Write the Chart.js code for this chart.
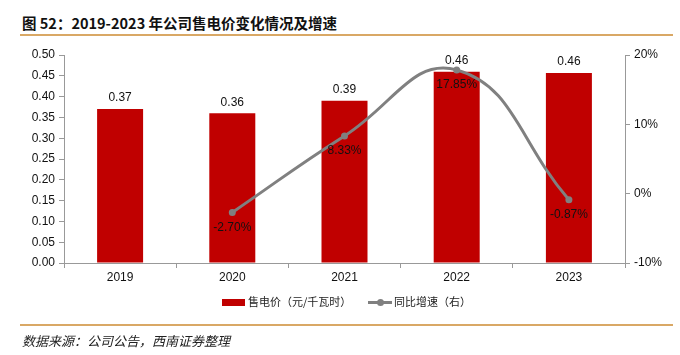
<!DOCTYPE html>
<html><head><meta charset="utf-8">
<script src="https://cdn.jsdelivr.net/npm/chart.js@4/dist/chart.umd.min.js"></script>
<style>
html,body{margin:0;padding:0;background:#fff;}
#wrap{position:relative;width:680px;height:355px;overflow:hidden;}
#c{position:absolute;left:0;top:0;}
.title{position:absolute;left:22px;top:12px;font-family:"Noto Sans CJK SC",sans-serif;font-weight:bold;font-size:14.5px;color:#111;white-space:nowrap;}
.rule{position:absolute;left:20px;width:653px;height:0;border-top:2px solid #D9A865;}
.src{position:absolute;left:22px;top:331px;font-family:"Noto Sans CJK SC",sans-serif;font-style:italic;font-size:13px;color:#222;white-space:nowrap;}
.leg{position:absolute;top:293px;font-family:"Noto Sans CJK SC",sans-serif;font-size:11px;color:#222;white-space:nowrap;}
</style></head>
<body><div id="wrap">
<div class="title">图 52：2019-2023 年公司售电价变化情况及增速</div>
<div class="rule" style="top:34px"></div>
<canvas id="c" width="680" height="355"></canvas>
<div class="leg" style="left:222px"><span style="display:inline-block;width:23px;height:7px;background:#C00000;vertical-align:middle;margin-right:3px;position:relative;top:-1px"></span>售电价（元/千瓦时）</div>
<div class="leg" style="left:368px"><span style="display:inline-block;width:24px;height:3px;background:#808080;vertical-align:middle;margin-right:2px;position:relative;top:-1px"><span style="position:absolute;left:9px;top:-2px;width:7px;height:7px;border-radius:50%;background:#808080"></span></span>同比增速（右）</div>
<div class="rule" style="top:324px"></div>
<div class="src">数据来源：公司公告，西南证券整理</div>
</div>
<script>
const categories = ['2019','2020','2021','2022','2023'];
const price = [0.37, 0.36, 0.39, 0.46, 0.457];
const priceLabels = ['0.37','0.36','0.39','0.46','0.46'];
const growth = [null, -2.70, 8.33, 17.85, -0.87];
const growthLabels = [null, '-2.70%', '8.33%', '17.85%', '-0.87%'];

const labelPlugin = {
  id:'labels',
  afterDatasetsDraw(chart){
    const ctx = chart.ctx;
    ctx.save();
    ctx.font = '12px "Liberation Sans", Arial, sans-serif';
    ctx.fillStyle = '#111';
    ctx.textAlign = 'center';
    ctx.textBaseline = 'middle';
    const barMeta = chart.getDatasetMeta(1);
    barMeta.data.forEach((el,i)=>{ ctx.fillText(priceLabels[i], el.x, el.y - 11); });
    const lineMeta = chart.getDatasetMeta(0);
    lineMeta.data.forEach((el,i)=>{ if(growthLabels[i]) ctx.fillText(growthLabels[i], el.x, el.y + 15); });
    ctx.restore();
  }
};

new Chart(document.getElementById('c'), {
  data:{
    labels: categories,
    datasets:[
      {type:'line', label:'同比增速（右）', data: growth, yAxisID:'y1', borderColor:'#808080', backgroundColor:'#808080', borderWidth:3, pointRadius:3.5, pointBackgroundColor:'#808080', pointBorderWidth:0, tension:0.45, spanGaps:false, order:0},
      {type:'bar', label:'售电价（元/千瓦时）', data: price, yAxisID:'y', backgroundColor:'#C00000', barPercentage:0.82, categoryPercentage:0.5, order:1}
    ]
  },
  options:{
    responsive:false, animation:false, devicePixelRatio:1,
    layout:{padding:{top:55,left:0,right:0,bottom:0}},
    plugins:{legend:{display:false}, tooltip:{enabled:false}},
    scales:{
      x:{
        grid:{offset:true, drawOnChartArea:false, tickLength:5, color:'#999'},
        border:{color:'#999', width:1},
        ticks:{color:'#111', font:{family:'"Liberation Sans", Arial', size:12}, padding:2},
        afterFit(s){ s.height = 92; }
      },
      y:{
        position:'left', min:0, max:0.5,
        ticks:{stepSize:0.05, color:'#111', font:{family:'"Liberation Sans", Arial', size:12}, padding:4, callback:v=>v.toFixed(2)},
        grid:{drawOnChartArea:false, tickLength:5, color:'#999'},
        border:{color:'#999', width:1},
        afterFit(s){ s.width = 64; }
      },
      y1:{
        position:'right', min:-10, max:20,
        ticks:{stepSize:10, color:'#111', font:{family:'"Liberation Sans", Arial', size:12}, padding:4, callback:v=>v+'%'},
        grid:{drawOnChartArea:false, tickLength:5, color:'#999'},
        border:{color:'#999', width:1},
        afterFit(s){ s.width = 55; }
      }
    }
  },
  plugins:[labelPlugin]
});
</script>
</body></html>
